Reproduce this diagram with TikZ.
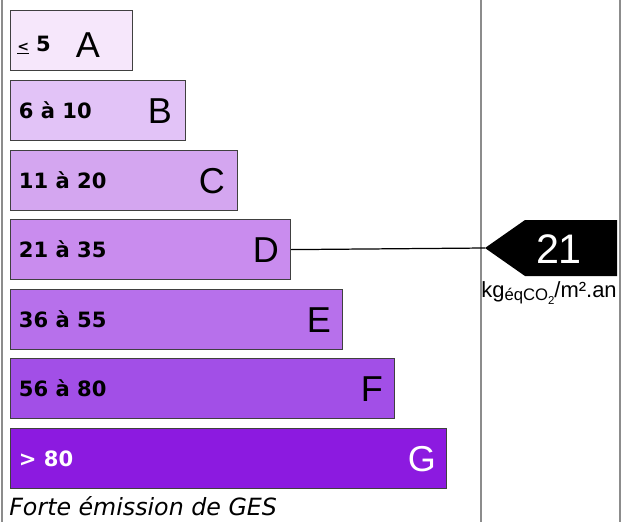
\documentclass[tikz,border=0pt]{standalone}
\usepackage{fontspec}
\setmainfont{Liberation Sans}
\newfontfamily\rangefont{DejaVu Sans}
\usetikzlibrary{positioning}
\definecolor{gesA}{HTML}{F6E7FB}
\definecolor{gesB}{HTML}{E2C3F7}
\definecolor{gesC}{HTML}{D4A6F0}
\definecolor{gesD}{HTML}{C98CEE}
\definecolor{gesE}{HTML}{B770EB}
\definecolor{gesF}{HTML}{A24FE7}
\definecolor{gesG}{HTML}{8C1AE0}
\tikzset{gesbar/.style={rectangle,draw=black!75,line width=0.7pt,minimum height=1.2cm,inner sep=0pt,anchor=north west},
         rangetxt/.style={font=\rangefont\bfseries\fontsize{12}{12}\selectfont,anchor=west,inner sep=0pt},
         gradetxt/.style={font=\fontsize{20.5}{20}\selectfont,anchor=east,inner sep=0pt},
         sepline/.style={draw=black!45,line width=0.8pt}}
\begin{document}
\begin{tikzpicture}[x=0.02cm,y=-0.02cm]
        \useasboundingbox (0,0) rectangle (630,522);
        \draw[sepline] (2,0) -- (2,522);
        \draw[sepline] (481,0) -- (481,522);
        \draw[sepline] (620,0) -- (620,522);

        \node[gesbar,fill=gesA,minimum width=2.44cm] (a) at (10,10) {};
        \node[gesbar,fill=gesB,minimum width=3.50cm] (b) at (10,80) {};
        \node[gesbar,fill=gesC,minimum width=4.54cm] (c) at (10,150) {};
        \node[gesbar,fill=gesD,minimum width=5.60cm] (d) at (10,219) {};
        \node[gesbar,fill=gesE,minimum width=6.64cm] (e) at (10,289) {};
        \node[gesbar,fill=gesF,minimum width=7.68cm] (f) at (10,358) {};
        \node[gesbar,fill=gesG,minimum width=8.72cm] (g) at (10,428) {};

        \node[rangetxt] (ra) at ([xshift=0.14cm,yshift=-0.09cm]a.west) {{\fontsize{8}{8}\selectfont\underline{<}}\,\,5};
        \node[rangetxt] (rb) at ([xshift=0.17cm]b.west) {6 à 10};
        \node[rangetxt] (rc) at ([xshift=0.17cm]c.west) {11 à 20};
        \node[rangetxt] (rd) at ([xshift=0.17cm]d.west) {21 à 35};
        \node[rangetxt] (re) at ([xshift=0.17cm]e.west) {36 à 55};
        \node[rangetxt] (rf) at ([xshift=0.17cm]f.west) {56 à 80};
        \node[rangetxt,text=white] (rg) at ([xshift=0.17cm]g.west) {> 80};

        \node[gradetxt] (la) at ([xshift=-0.66cm,yshift=-0.08cm]a.east) {A};
        \node[gradetxt] (lb) at ([xshift=-0.28cm]b.east) {B};
        \node[gradetxt] (lc) at ([xshift=-0.26cm]c.east) {C};
        \node[gradetxt] (ld) at ([xshift=-0.24cm]d.east) {D};
        \node[gradetxt] (le) at ([xshift=-0.24cm]e.east) {E};
        \node[gradetxt] (lf) at ([xshift=-0.24cm]f.east) {F};
        \node[gradetxt,text=white] (lg) at ([xshift=-0.22cm]g.east) {G};

        \node[anchor=west,inner sep=0pt,font=\rangefont\itshape\fontsize{13.5}{14}\selectfont] (low) at (9,506) {Forte émission de GES};

        % value pointer
        \coordinate (tip) at (485,248);
        \fill[black] (tip) -- (525,220) -- (617,220) -- (617,276) -- (525,276) -- cycle;
        \node[text=white,font=\fontsize{23.5}{24}\selectfont,inner sep=0pt] (val) at (559,249) {21};
        \node[inner sep=0pt,font=\fontsize{12.5}{13}\selectfont] (unit) at (549,293) {kg{\fontsize{9.5}{10}\selectfont\raisebox{-0.4ex}{éqCO\raisebox{-0.4ex}{\fontsize{6.5}{7}\selectfont 2}}}/m²{}.an};
        \draw[line width=0.7pt] (d.east) -- (tip);
    \end{tikzpicture}
\end{document}
